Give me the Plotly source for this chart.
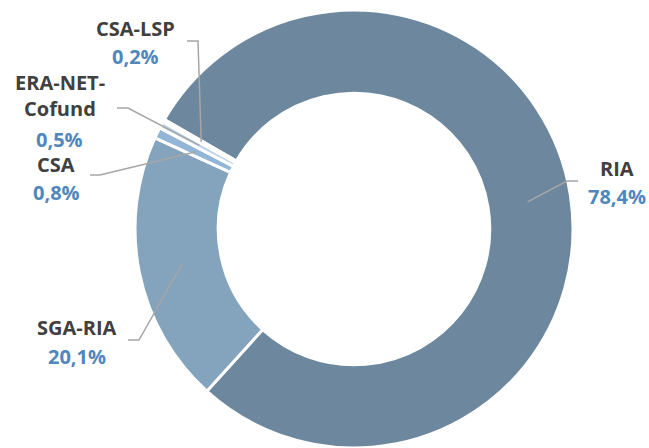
import math
import plotly.graph_objects as go

# ---- data ----
categories = ["RIA", "SGA-RIA", "CSA", "ERA-NET-Cofund", "CSA-LSP"]
values = [78.4, 20.1, 0.8, 0.5, 0.2]
value_labels = ["78,4%", "20,1%", "0,8%", "0,5%", "0,2%"]
name_lines = [["RIA"], ["SGA-RIA"], ["CSA"], ["ERA-NET-", "Cofund"], ["CSA-LSP"]]
colors = ["#6d889e", "#84a3bd", "#93b6d8", "#bcd3ea", "#dfeaf5"]

# ---- layout geometry (pixels) ----
W, H = 649, 448
CX, CY, R = 354, 229, 219
HOLE = 0.62
ROT = -60
FONT = "Open Sans"
NAME_COLOR = "#404040"
VALUE_COLOR = "#4f87bd"
LINE_COLOR = "#a6a6a6"

# label placement: name line centres, value centre, leader start and elbow
label_pos = {
    "RIA": dict(names=[(617, 168)], value=(617, 197), start=(578, 181), elbow=(567, 181)),
    "SGA-RIA": dict(names=[(77, 327)], value=(77, 356), start=(128, 340), elbow=(139, 340)),
    "CSA": dict(names=[(56, 164)], value=(56, 192), start=(90, 175), elbow=(100, 175)),
    "ERA-NET-Cofund": dict(names=[(60, 82), (60, 109)], value=(59, 139), start=(117, 108), elbow=(128, 108)),
    "CSA-LSP": dict(names=[(135, 28)], value=(135, 57), start=(187, 41), elbow=(198, 41)),
}


def px(x):
    return x / W


def py(y):
    return min(1.0, max(0.0, 1 - y / H))


fig = go.Figure(
    go.Pie(
        labels=categories,
        values=values,
        sort=False,
        direction="clockwise",
        rotation=ROT,
        hole=HOLE,
        textinfo="none",
        hoverinfo="label+percent",
        marker=dict(colors=colors, line=dict(color="white", width=3)),
        domain=dict(x=[px(CX - R), px(CX + R)], y=[py(CY + R), py(CY - R)]),
        showlegend=False,
    )
)

annotations = []
shapes = []
total = sum(values)
cum = 0.0
r_mid = (R - 2) * (1 + HOLE) / 2
for cat, v, vl, nl in zip(categories, values, value_labels, name_lines):
    ang = math.radians(ROT + 360 * (cum + v / 2) / total)
    cum += v
    ex = CX + r_mid * math.sin(ang)
    ey = CY - r_mid * math.cos(ang)
    lp = label_pos[cat]
    for (nx, ny), t in zip(lp["names"], nl):
        annotations.append(dict(x=px(nx), y=py(ny), xref="paper", yref="paper", text=f"<b>{t}</b>",
                                showarrow=False, xanchor="center", yanchor="middle",
                                font=dict(family=FONT, size=20, color=NAME_COLOR)))
    vx, vy = lp["value"]
    annotations.append(dict(x=px(vx), y=py(vy), xref="paper", yref="paper", text=f"<b>{vl}</b>",
                            showarrow=False, xanchor="center", yanchor="middle",
                            font=dict(family=FONT, size=20, color=VALUE_COLOR)))
    sx, sy = lp["start"]
    bx, by = lp["elbow"]
    path = f"M {px(sx)} {py(sy)} L {px(bx)} {py(by)} L {px(ex)} {py(ey)}"
    shapes.append(dict(type="path", xref="paper", yref="paper", path=path,
                       line=dict(color=LINE_COLOR, width=1.5)))

fig.update_layout(
    width=W,
    height=H,
    margin=dict(l=0, r=0, t=0, b=0),
    paper_bgcolor="white",
    plot_bgcolor="white",
    annotations=annotations,
    shapes=shapes,
)

fig.write_html(
    "out.html",
    config={"displayModeBar": False},
    post_script="document.body.style.margin='0';document.body.style.overflow='hidden';",
)
